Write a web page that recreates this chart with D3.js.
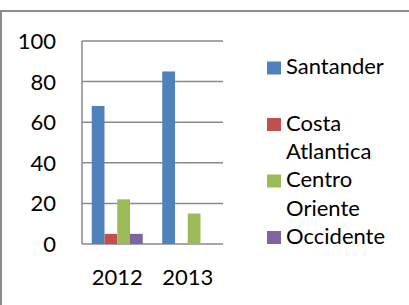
<!DOCTYPE html>
<html>
<head>
<meta charset="utf-8">
<script src="https://cdn.jsdelivr.net/npm/d3@7"></script>
<style>
  html, body { margin: 0; padding: 0; background: #fff; }
  svg { display: block; }
  text { font-family: Lato, "Open Sans", sans-serif; fill: #000; }
</style>
</head>
<body>
<svg id="chart" width="409" height="305"></svg>
<script>
const categories = ["2012", "2013"];
const seriesNames = ["Santander", "Costa Atlantica", "Centro Oriente", "Occidente"];
const legendLines = [["Santander"], ["Costa", "Atlantica"], ["Centro", "Oriente"], ["Occidente"]];
const santander = [68, 85];
const costaAtlantica = [5, 0];
const centroOriente = [22, 15];
const occidente = [5, 0];
const yTicks = [0, 20, 40, 60, 80, 100];
const colors = ["#4F81BD", "#C0504D", "#9BBB59", "#8064A2"];

const seriesValues = [santander, costaAtlantica, centroOriente, occidente];

const svg = d3.select("#chart");

// outer border
svg.append("rect")
  .attr("x", 1).attr("y", 11)
  .attr("width", 430).attr("height", 400)
  .attr("fill", "none").attr("stroke", "#8c8c8c").attr("stroke-width", 2);

const plot = { left: 82, right: 223, top: 41, bottom: 244 };

const x = d3.scaleBand().domain(categories).range([plot.left, plot.right]).paddingInner(0).paddingOuter(0);
const xs = d3.scaleBand().domain(seriesNames).range([0, x.bandwidth()]).paddingInner(0).paddingOuter(0.765);
const y = d3.scaleLinear().domain([0, 100]).range([plot.bottom, plot.top]);

// gridlines
svg.append("g").selectAll("line").data(yTicks).join("line")
  .attr("x1", plot.left).attr("x2", plot.right)
  .attr("y1", d => y(d)).attr("y2", d => y(d))
  .attr("stroke", "#8a8a8a").attr("stroke-width", 1.5);

// y axis line
svg.append("line")
  .attr("x1", plot.left).attr("x2", plot.left)
  .attr("y1", y(100)).attr("y2", y(0))
  .attr("stroke", "#8a8a8a").attr("stroke-width", 1.5);

// y labels
svg.append("g").selectAll("text").data(yTicks).join("text")
  .attr("x", 56).attr("y", d => y(d))
  .attr("dy", "0.36em")
  .attr("text-anchor", "end")
  .attr("font-size", 22)
  .text(d => d);

// bars
const data = [];
categories.forEach((c, i) => {
  seriesNames.forEach((s, j) => {
    data.push({ cat: c, series: s, value: seriesValues[j][i], color: colors[j] });
  });
});
svg.append("g").selectAll("rect").data(data.filter(d => d.value > 0)).join("rect")
  .attr("x", d => x(d.cat) + xs(d.series))
  .attr("width", xs.bandwidth())
  .attr("y", d => y(d.value))
  .attr("height", d => y(0) - y(d.value))
  .attr("fill", d => d.color);

// x labels
svg.append("g").selectAll("text").data(categories).join("text")
  .attr("x", d => x(d) + x.bandwidth() / 2)
  .attr("y", 285)
  .attr("text-anchor", "middle")
  .attr("font-size", 22)
  .text(d => d);

// legend
const legendY = d3.scaleLinear().domain([0, 3]).range([74, 243.5]);
const lg = svg.append("g").selectAll("g").data(seriesNames).join("g");
lg.append("rect")
  .attr("x", 267).attr("y", (d, i) => legendY(i) - 12.5)
  .attr("width", 14).attr("height", 13)
  .attr("fill", (d, i) => colors[i]);
lg.each(function(d, i) {
  d3.select(this).selectAll("text").data(legendLines[i]).join("text")
    .attr("x", 286)
    .attr("y", (t, k) => legendY(i) + k * 28.5)
    .attr("font-size", 22)
    .text(t => t);
});
</script>
</body>
</html>
